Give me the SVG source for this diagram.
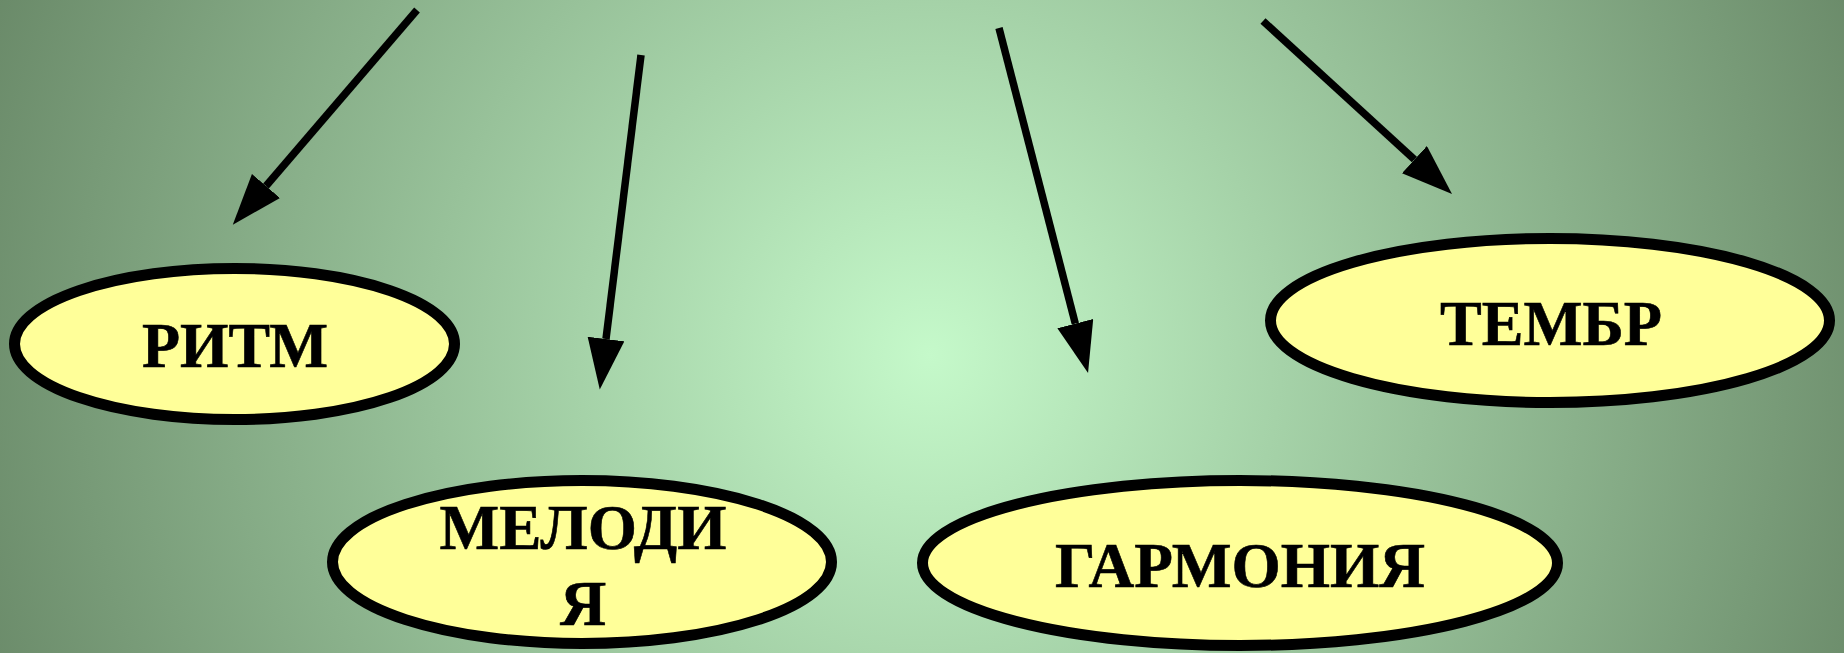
<svg xmlns="http://www.w3.org/2000/svg" width="1844" height="653" viewBox="0 0 1844 653">
<defs>
<radialGradient id="bg" gradientUnits="userSpaceOnUse" cx="930" cy="355" r="1000">
<stop offset="0" stop-color="#c5f9ca"/>
<stop offset="1" stop-color="#6a8a69"/>
</radialGradient>
<marker id="ah" markerUnits="userSpaceOnUse" markerWidth="52" markerHeight="38" refX="0" refY="18.5" orient="auto">
<path d="M0,0 L51,18.5 L0,37 Z" fill="#000"/>
</marker>
<style>
.node ellipse{fill:#ffff99;stroke:#000;stroke-width:11}
.node text{font-family:"Liberation Serif","Times New Roman",serif;font-weight:bold;font-size:64px;fill:#000;stroke:#000;stroke-width:0.6;text-anchor:middle}
.edge{stroke:#000;stroke-width:7.5;fill:none;marker-end:url(#ah)}
</style>
</defs>
<rect width="1844" height="653" fill="url(#bg)"/>
<g id="connectors">
<line class="edge" x1="417" y1="10" x2="266" y2="186"/>
<line class="edge" x1="641" y1="55" x2="606" y2="339"/>
<line class="edge" x1="999" y1="28" x2="1075.3" y2="323.6"/>
<line class="edge" x1="1263" y1="21" x2="1414.4" y2="159.6"/>
</g>
<g id="node-ritm" class="node">
<ellipse cx="234.5" cy="344" rx="220" ry="75.5"/>
<text x="235" y="367" textLength="186" lengthAdjust="spacingAndGlyphs">РИТМ</text>
</g>
<g id="node-melodia" class="node">
<ellipse cx="582" cy="562" rx="249.5" ry="81.5"/>
<text x="583" y="549" textLength="287" lengthAdjust="spacingAndGlyphs">МЕЛОДИ</text>
<text x="583" y="625">Я</text>
</g>
<g id="node-garmonia" class="node">
<ellipse cx="1240" cy="563" rx="317.5" ry="82.5"/>
<text x="1240" y="587" textLength="370" lengthAdjust="spacingAndGlyphs">ГАРМОНИЯ</text>
</g>
<g id="node-timbre" class="node">
<ellipse cx="1550" cy="320.5" rx="279.5" ry="82"/>
<text x="1551" y="345" textLength="222" lengthAdjust="spacingAndGlyphs">ТЕМБР</text>
</g>
</svg>
